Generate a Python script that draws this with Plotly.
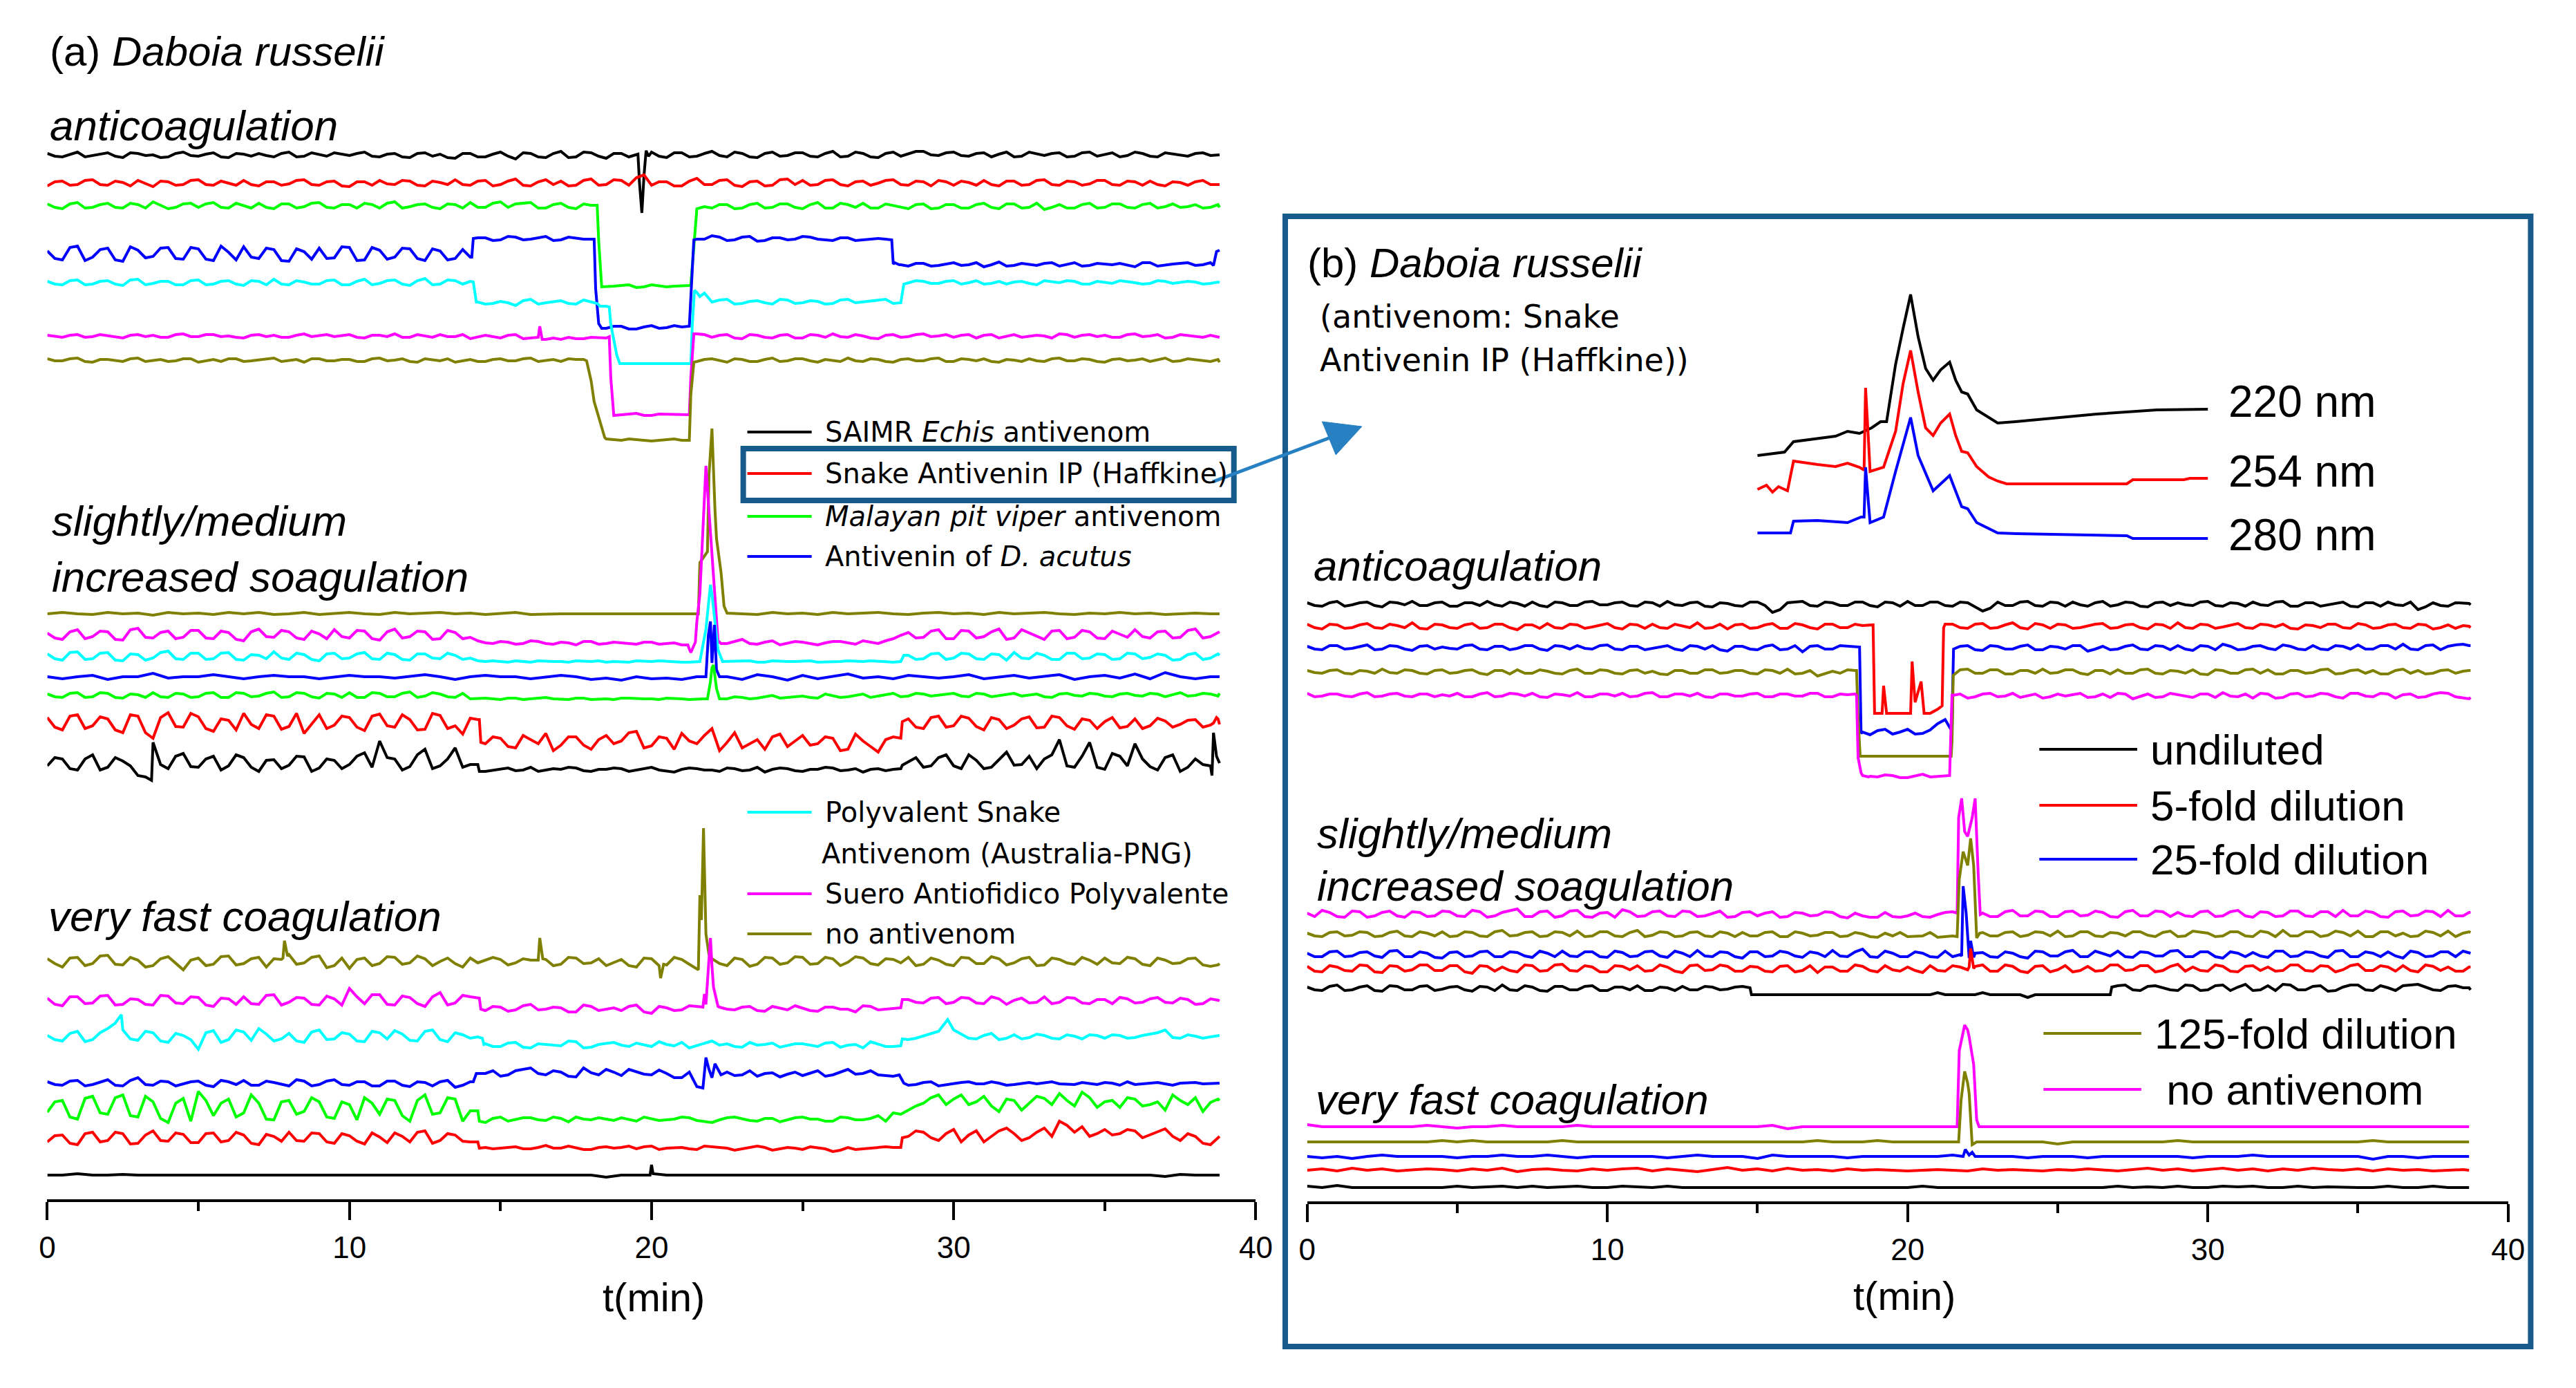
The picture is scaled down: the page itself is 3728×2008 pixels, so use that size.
import plotly.graph_objects as go

W, H = 3728, 2008

# samples every 0.5 min (0 .. 38.5) and in-between samples (0.25 .. 38.75);
# values are deviations (px) from each trace's own baseline, None = no sample there
GRID = [i * 0.5 for i in range(78)]
MID = [0.25 + i * 0.5 for i in range(78)]

# ---------------- panel (a) : anticoagulation ----------------
a_anti_black = [2, -3, 4, -1, 3, -4, 2, 0, -3, 4,
                -2, 3, -4, 1, 2, -3, 4, -2, 0, 3,
                -1, 4, -3, 2, -4, 3, 1, -5, 2, -3,
                4, -6, 2, -4, 5, -3, 3, -5, 2, 0,
                4, -4, 3, -2, 5, -3, 2, -4, 4, -1,
                3, -3, 5, -2, 2, -4, 4, 2, 5, -1,
                4, -2, 3, 1, -3, 4, -1, 3, -2, 4,
                1, -3, 4, -2, 3, 0, 2, -1]
a_anti_black_m = [-2, 1, -3, 2, -2, 3, -1, -4, 2, -1,
                  1, -3, 2, -2, -1, 2, -3, 3, -2, 1,
                  2, -2, 1, -3, 2, -2, -4, 2, -3, 1,
                  -2, 3, -3, 2, -4, 4, -2, 2, -3, None,
                  -2, 3, -3, 2, -1, 4, -3, 2, -2, 3,
                  -2, 2, -3, 4, -3, 2, -2, 5, 0, 3,
                  -1, 2, -3, 4, -2, 1, 2, -3, 3, -2,
                  3, -1, 2, -3, 1, -2, 3, 0]
a_anti_black_x = [(19.55, 1), (19.6, -40), (19.68, -84), (19.75, -30), (19.82, 6), (19.9, -2), (38.8, 0)]

a_anti_red = [-4, 3, -2, 5, -3, 1, 4, -5, 2, -2,
              5, -3, 0, 4, -4, 2, -1, 5, -3, 3,
              -5, 2, 4, -2, 3, -4, 1, 5, -3, 4,
              -2, 6, -4, 5, 3, -3, 6, -2, 4, 8,
              -3, 2, -4, 7, -2, 5, -5, 3, -3, 6,
              4, -2, 5, -4, 3, 0, 5, -3, 2, 4,
              -3, 1, 4, -4, 3, -2, 5, -3, 2, -1,
              4, -3, 2, 3, -4, 1, 2, -2]
a_anti_red_m = [2, -3, 4, -2, 3, -4, -1, 3, -3, 4,
                -2, 3, -3, -2, 2, -3, 4, -2, 2, -4,
                2, -3, -1, 4, -3, 3, -2, -2, 3, -4,
                3, -3, 2, -2, -4, 4, -3, 5, -3, 12,
                2, -4, 3, -2, 4, -3, 2, -4, 5, -2,
                -3, 4, -2, 2, -3, 4, -2, 3, -4, 2,
                3, -3, -2, 3, -3, 4, -2, 3, -3, 4,
                -2, 3, -3, -2, 2, -3, 4, -2]
a_anti_red_x = [(38.8, -2)]

a_anti_green = [3, -4, 5, -2, 4, -3, 2, 6, -4, 3,
                -2, 5, -3, 1, 4, -4, 3, -1, 5, -3,
                2, 4, -3, 6, -1, 3, -4, 2, 5, -2,
                6, 3, 5, -3, 4, -4, 1, -117, -115, -118,
                -114, -117, -116, -4, -3, 2, -3, 4, -2, 3,
                -4, 5, -3, 2, 4, -3, 1, -4, 3, -3,
                2, -3, 4, -4, 3, -2, -5, 2, -3, 4,
                -2, 3, -3, 4, -1, -2, 2, -2]
a_anti_green_m = [-2, 3, -3, 2, -2, 4, -3, 1, -2, 4,
                  3, -2, 4, -3, -2, 3, -3, 4, -2, 2,
                  -3, 2, 4, -3, 2, -2, 3, -3, -2, 4,
                  -2, 4, -3, 2, -2, 3, None, -116, -114, -117,
                  -115, -116, -115, -1, 2, -4, 2, -3, 3, -2,
                  2, -3, 4, -2, -3, 3, -2, 2, -4, 2,
                  -3, 2, -2, 3, -3, 4, -2, -3, 2, -3,
                  3, -2, 2, -3, 3, -1, -3, 2]
a_anti_green_x = [(18.2, 1), (18.25, -50), (18.35, -117), (21.3, -114), (21.35, -84),
                  (21.42, -48), (21.48, -4), (38.8, -2)]

a_anti_blue = [5, -8, 12, -4, 9, -10, 6, -3, 10, -7,
               8, -9, 3, 11, -6, 7, -10, 4, 9, -5,
               10, -8, 6, -4, 8, -9, 5, -6, -4, 24,
               21, 25, 22, 26, 21, 23, 22, -107, -104, -108,
               -103, -106, -105, 22, 27, 20, 25, 19, 24, 21,
               26, 22, 20, 24, 21, 23, -14, -17, -13, -16,
               -12, -15, -18, -11, -16, -14, -13, -17, -12, -16,
               -14, -13, -18, -12, -15, -13, -16, -12]
a_anti_blue_m = [-6, 10, -9, 7, -8, 11, -5, 9, -6, 10,
                 -7, 12, -8, -4, 9, -9, 8, -7, -6, 11,
                 -9, 10, -7, 9, -6, 8, -8, 7, 24, 20,
                 26, 21, 24, 20, 25, 22, None, -104, -108, -105,
                 -107, -103, -104, 22, 25, 21, 26, 20, 24, 22,
                 25, 21, 24, 20, 23, 22, -15, -13, -17, -14,
                 -16, -12, -15, -17, -13, -16, -12, -15, -17, -13,
                 -15, -16, -12, -17, -14, -12, -15, 5]
a_anti_blue_x = [(14.05, -4), (14.1, 23), (18.1, 22), (18.15, -50), (18.25, -100), (18.35, -107),
                 (21.25, -104), (21.3, -60), (21.4, 21), (27.95, 21), (28.05, -12), (28.2, -15),
                 (38.6, -16), (38.7, 4), (38.8, 6)]

a_anti_cyan = [2, -3, 4, -2, 3, -4, 5, -1, 2, -3,
               4, -2, 3, -4, 2, 5, -3, 1, -2, 4,
               -3, 5, -1, 4, -4, 6, -2, 3, 2, -31,
               -27, -33, -24, -29, -26, -31, -28, -34, -117, -117,
               -117, -117, -117, -14, -28, -24, -30, -26, -31, -25,
               -29, -27, -30, -24, -28, -26, -30, 0, 2, -1,
               3, 0, -2, 2, 1, -1, 3, 0, 2, -2,
               1, 3, 0, -1, 2, 0, 1, -1]
a_anti_cyan_m = [-2, 3, -3, 2, -2, 4, -3, 2, -3, 3,
                 -3, 2, -2, 3, -3, -2, 3, -2, 3, -3,
                 2, -3, 3, -2, 3, -3, 4, -2, -28, -30,
                 -29, -26, -31, -27, -30, -25, -32, -85, -117, -116,
                 -117, -117, -117, -15, -25, -31, -27, -29, -24, -30,
                 -26, -31, -25, -29, -27, -24, -29, 3, -1, 2,
                 -2, 3, -1, -2, 2, -3, 1, 3, -2, 2,
                 -1, 2, -2, 3, -1, 2, -2, 1]
a_anti_cyan_x = [(14.1, 1), (14.2, -28), (18.2, -30), (18.3, -34), (18.6, -35), (18.65, -60),
                 (18.75, -85), (18.85, -105), (18.95, -117), (21.3, -117), (21.35, -60),
                 (21.42, -11), (21.6, -20), (21.75, -15), (28.25, -29), (28.35, -2), (38.8, 0)]

a_anti_magenta = [1, -2, 2, -1, 0, -3, 2, 1, -2, 3,
                  -1, 2, 0, -3, 2, 1, -2, 3, 0, -1,
                  2, -3, 1, 3, -2, 0, 2, -1, -4, 1,
                  -3, 2, -3, -5, -5, -4, -2, -3, -114, -112,
                  -115, -113, -114, 3, -2, 2, -4, 1, -3, 2,
                  -3, 1, 3, -2, 0, -4, 2, -1, 3, 0,
                  -2, 2, 1, -3, 2, -1, 0, 3, -2, 2,
                  1, -2, 3, 0, -3, 2, -1, 1]
a_anti_magenta_m = [-1, 1, -2, 2, -2, 1, -1, -2, 2, -1,
                    2, -1, -2, 1, -1, -2, 1, -1, 2, 1,
                    -2, 1, -1, -2, 2, -2, -1, 2, -2, -1,
                    1, -4, -2, -3, -2, -4, -3, -115, -112, -115,
                    -113, -114, -114, 2, 1, -3, 2, -2, 1, -3,
                    2, -2, -1, 2, -3, 1, -2, 2, -1, 2,
                    1, -3, 2, -1, -2, 1, -3, 2, 1, -1,
                    -2, 2, -1, 2, -2, 1, -2, -1]
a_anti_magenta_x = [(16.25, -2), (16.3, 14), (16.38, -5), (18.6, -1), (18.65, -60), (18.75, -115),
                    (21.25, -114), (21.3, -60), (21.4, 3), (38.8, -2)]

a_anti_olive = [2, -1, 3, -3, 1, -2, 3, 0, -2, 2,
                -3, 1, 2, -2, 0, 3, -1, -3, 2, -1,
                1, -2, 3, 0, -2, 2, -1, -3, 1, -2,
                2, -1, 3, 0, -2, 1, -30, -114, -116, -115,
                -117, -115, -116, -2, 2, -3, 1, -2, 3, -1,
                2, -3, 0, 3, -2, 1, -3, 2, -1, 3,
                -2, 1, 2, -3, 0, 2, -2, 3, -1, 1,
                -3, 2, 0, -2, 3, -1, 1, -2]
a_anti_olive_m = [-1, 2, -2, 1, -1, 2, -2, 1, -1, 2,
                  -1, -2, 2, -1, 2, -2, 1, 2, -1, 1,
                  -2, 2, -1, 2, -3, 1, 2, -1, -2, 1,
                  -1, 2, -2, 1, 2, 1, -82, -115, -114, -116,
                  -116, -114, -116, 1, -1, 2, -2, 1, -2, 2,
                  -1, 1, -2, -1, 2, -2, 1, -1, 2, -2,
                  2, -1, -2, 1, -2, -1, 2, -1, 2, -2,
                  1, -1, 2, 1, -2, 2, -1, 1]
a_anti_olive_x = [(17.85, -1), (18.1, -60), (18.3, -90), (18.45, -112), (21.25, -116),
                  (21.3, -50), (21.4, -3), (38.8, -3)]

# ---------------- panel (a) : slightly / medium ----------------
a_slow_olive = [0, 2, 0, -1, 2, 0, 1, -2, 2, 0,
                1, -1, 2, 0, 2, -1, 0, 2, -1, 1,
                2, 0, -1, 2, 0, 1, 2, 0, 1, -1,
                0, 2, -1, 0, 0, 0, 0, 0, 0, 0,
                0, 0, 0, 0, 268, 1, 0, -1, 2, 0,
                1, -1, 2, 0, 1, 2, 0, -1, 1, 2,
                0, 1, -1, 2, 0, 1, 2, 0, -1, 1,
                0, 2, 0, 1, -1, 0, 1, 0]
a_slow_olive_x = [(21.55, 0), (21.6, 74), (21.85, 90), (21.9, 200), (22.1, 150), (22.15, 109),
                  (22.3, 60), (22.4, 11), (38.8, 0)]

a_slow_magenta = [3, -6, 8, -2, 5, -7, 10, -4, 6, -3,
                  7, -5, 4, -8, 9, -3, 5, -6, 2, 8,
                  -4, 6, -7, 9, -2, 5, -5, 4, -3, -11,
                  -9, -13, -8, -12, -10, -14, -9, -12, -11, -13,
                  -10, -12, -14, 20, 120, -12, -6, -13, -8, -12,
                  -10, -14, -9, -11, -8, -12, -5, 4, -3, 8,
                  -5, 6, -2, 9, -4, 3, -6, 7, -3, 5,
                  -5, 2, 8, -4, 6, -3, 9, -2]
a_slow_magenta_m = [-4, 5, -5, 6, -6, 8, -3, 4, -5, 7,
                    -4, 6, -6, 5, -2, 7, -4, 6, -5, -2,
                    7, -5, 5, -4, 6, -6, 7, -5, -8, -12,
                    -10, -12, -9, -13, -11, -9, -13, -10, -12, -10,
                    -13, -11, -20, None, -10, -9, -12, -10, -14, -9,
                    -12, -11, -9, -13, -10, -8, 0, -4, 6, -5,
                    7, -4, 5, -6, 8, -2, 6, -5, 7, -4,
                    6, -3, -2, 5, -4, 7, -4, 3]
a_slow_magenta_x = [(21.2, -14), (21.3, -25), (21.45, -10), (21.6, 60), (21.8, 245), (21.9, 180),
                    (22.05, 90), (22.2, -8), (22.3, -12), (38.8, 5)]

a_slow_cyan = [4, -5, 7, -3, 6, -6, 3, -2, 8, -4,
               5, -3, 6, -5, 2, 7, -4, 3, -6, 5,
               -2, 6, -4, 3, -5, 4, -3, 2, -2, -7,
               -7, -6, -8, -7, -7, -6, -7, -8, -7, -6,
               -7, -7, -8, -7, 90, -7, -7, -8, -6, -7,
               -7, -8, -7, -6, -7, -7, -8, 2, -3, 5,
               -2, 4, -4, 3, 6, -3, 2, -4, 5, -2,
               3, -3, 4, -1, 2, -4, 5, -2]
a_slow_cyan_m = [-3, 6, -4, 5, -5, 4, -5, 6, -3, 5,
                 -4, 5, -4, 3, -3, -2, 5, -4, 4, -3,
                 4, -3, 5, -4, 4, -2, 5, -4, -6, -6,
                 -8, -7, -6, -7, -8, -7, -6, -7, -8, -7,
                 -6, -7, -8, None, None, -7, -6, -8, -7, -7,
                 -6, -8, -7, -7, -6, -8, -7, -4, 4, -4,
                 5, -3, 4, -5, -2, 5, -4, 5, -3, 4,
                 -4, 5, -3, 4, -5, 3, -4, 4]
a_slow_cyan_x = [(21.6, -7), (21.8, 40), (21.95, 104), (22.05, 70), (22.2, 10), (22.35, -7),
                 (28.25, -7), (28.35, 2), (38.8, 2)]

a_slow_blue = [0, -3, 0, 2, -4, 0, 0, 5, -2, 0,
               0, 3, 0, -3, 0, 2, 0, 0, -3, 0,
               2, 0, 0, -2, 0, 3, 0, -4, 0, 2,
               0, 0, -3, 0, 2, 0, -4, -2, -5, 0,
               -3, -2, -4, 0, 20, 0, -4, 3, 0, -5,
               2, -3, 0, 4, -2, 0, -3, 2, 0, -2,
               0, 3, -3, 0, 2, -2, 0, 3, -4, 0,
               2, -2, 4, -3, 6, 0, -3, 0]
a_slow_blue_x = [(21.8, 0), (21.88, 60), (21.95, 80), (22.08, 75), (22.15, 10), (22.25, 0), (38.8, 0)]

a_slow_green = [2, -3, 4, -2, 3, -4, 1, 4, -3, 2,
                -2, 4, -3, 3, -1, 5, -2, 3, -4, 2,
                4, -3, 3, -2, 5, -1, 2, -3, -5, -4,
                -6, -4, -5, -3, -5, -4, -6, -5, -4, -5,
                -5, -4, -5, -5, 40, -5, -3, -4, 0, -3,
                -1, -4, 0, -2, 2, -1, 3, -1, 2, 0,
                3, -2, 2, 0, 3, 1, -2, 2, 0, 3,
                -1, 2, 0, 3, -2, 4, 0, 2]
a_slow_green_m = [-2, 3, -3, 4, -3, 2, -3, -2, 3, -3,
                  3, -3, 4, -2, 3, -3, 4, -2, 3, -3,
                  -3, 4, -2, 3, -3, 4, -2, 3, -4, -5,
                  -4, -6, -4, -5, -6, -4, -5, -6, -4, -5,
                  -6, -4, -6, -5, -5, -2, -5, -2, -4, -1,
                  -3, 2, -3, 0, -3, 2, -2, 3, -1, 2,
                  -1, 3, -2, 2, -1, 2, -3, 3, -1, 2,
                  -2, 3, -1, 2, 1, -1, 3, -1]
a_slow_green_x = [(21.85, -5), (21.95, 20), (22.05, 44), (22.15, 10), (22.25, -5), (38.8, 3)]

a_slow_red = [8, -10, 12, -4, 6, -14, 10, -22, 15, -6,
              9, -12, 4, 14, -8, 10, -5, -15, 12, -3,
              8, -11, 13, -6, 5, -9, 11, -4, 7, -30,
              -22, -36, -24, -15, -32, -20, -38, -18, -26, -12,
              -33, -22, -15, -30, -8, -28, -36, -24, -20, -34,
              -18, -30, -22, -38, -26, -42, -20, 6, -8, 10,
              -4, 7, -10, 5, -3, 9, -6, 8, -9, 4,
              2, -7, 6, -4, 3, -2, 5, -3]
a_slow_red_m = [-6, 10, -8, 9, -10, 12, -14, 8, -5, 14,
                -8, 6, -10, -2, 12, -9, 14, -2, -8, 10,
                -6, 10, -4, 12, -10, 14, -8, -16, 5, -20,
                -34, -18, -30, -40, -20, -32, -24, -30, -14, -36,
                -20, -38, -26, -18, -40, -14, -30, -38, -16, -26,
                -32, -20, -40, -16, -34, -24, -22, -6, 8, -6,
                10, -5, 8, -8, 6, -7, 10, -4, 6, -8,
                8, -5, -8, 7, -6, 4, -6, 6]
a_slow_red_x = [(14.3, 5), (14.35, -28), (28.25, -22), (28.3, 2), (38.6, 0), (38.7, 8), (38.8, -2)]

a_slow_black = [-4, 6, -10, 12, -6, 3, -18, 30, -8, 14,
                -6, 10, -4, 8, -12, 5, -3, 9, -7, 4,
                -2, 15, 32, 6, -5, 20, -4, 22, -2, -12,
                -8, -11, -6, -10, -9, -7, -12, -9, -8, -10,
                -6, -11, -9, -8, -10, -7, -11, -6, -9, -8,
                -12, -9, -7, -10, -13, -8, -9, 2, -6, 8,
                -4, 12, -8, 5, -3, 10, 6, 34, -6, 30,
                -9, 10, 28, -5, 8, -12, 6, -4]
a_slow_black_m = [8, -8, 6, -10, 8, -4, -20, -2, 10, -5,
                  6, -10, 12, -6, 4, -8, 10, -12, 6, -8,
                  10, -6, 8, -10, 12, -8, 6, -6, -2, -10,
                  -7, -10, -12, -8, -6, -11, -9, -7, -12, -8,
                  -10, -13, -7, -10, -12, -8, -10, -13, -7, -11,
                  -9, -6, -11, -8, -9, -11, -8, 8, -4, 12,
                  -8, 4, -6, 16, -2, -8, 12, -4, 10, -6,
                  14, -4, 6, -10, 12, -6, -2, 5]
a_slow_black_x = [(3.45, -25), (14.25, -2), (14.3, -12), (28.25, -8), (28.3, -3),
                  (38.55, -18), (38.6, 44), (38.7, 10), (38.8, 0)]

# ---------------- panel (a) : very fast coagulation ----------------
a_fast_olive = [4, -8, 6, -3, 9, -5, 2, -6, 7, -12,
                5, -4, 8, -3, 6, 4, 10, -2, 8, -6,
                -10, 5, -3, 6, -2, 4, 0, -3, 5, 2,
                3, -2, 2, 3, -4, 5, -2, -6, 3, -8,
                4, -5, 3, -10, 4, -6, 3, -4, 5, -2,
                6, -3, 4, -1, 5, -5, 3, 6, -4, 2,
                -6, 5, -3, 4, -2, 6, -5, 3, -4, 2,
                5, -3, 4, -6, 2, -2, 5, -7]
a_fast_olive_m = [-3, 5, -6, 8, -4, 6, -8, 4, -3, 2,
                  -6, 7, -5, 4, -8, 3, -4, 6, -9, 5,
                  3, -6, 7, -4, 8, -6, 5, -8, -2, 6,
                  -5, 4, 2, -6, 6, -3, 4, -2, -6, 5,
                  -6, 6, -4, None, -3, 5, -7, 6, -4, 7,
                  -4, 6, -6, 7, -3, 4, -2, -6, 5, -4,
                  6, -3, 7, -5, 4, -6, 5, -2, 6, -4,
                  -2, 6, -4, 5, -3, 4, -5, -5]
a_fast_olive_x = [(7.8, 5), (7.85, 30), (7.95, 8), (16.25, 2), (16.3, 34), (16.4, 4),
                  (20.25, -6), (20.3, -24), (20.4, -4), (21.55, -12), (21.6, 96), (21.65, 60),
                  (21.72, 193), (21.8, 40), (21.9, 10), (38.8, -3)]

a_fast_magenta = [4, -7, 6, -3, 8, -5, 2, -6, 7, -4,
                  5, -8, 3, 6, -5, 9, -2, 4, -6, 3,
                  18, -4, 9, -6, 5, -8, 12, -3, 6, -14,
                  -9, -13, -5, -12, -10, -16, -8, -12, -14, -6,
                  -18, -10, -13, -8, 50, -12, -9, -14, -8, -13,
                  -10, -15, -9, -12, -7, -13, -10, 2, -3, 5,
                  -2, 4, -4, 3, 1, -3, 6, -2, 4, -4,
                  2, 5, -3, 3, -2, 4, -5, 3]
a_fast_magenta_m = [-5, 6, -4, 7, -6, 3, -5, 8, -3, 6,
                    -6, 4, -5, -4, 8, -6, 5, -5, 7, -6,
                    6, 9, -5, 7, -4, 6, -6, 8, 4, -8,
                    -15, -7, -13, -9, -16, -6, -14, -10, -8, -16,
                    -8, -14, -7, 10, -9, -13, -8, -15, -11, -7,
                    -14, -9, -12, -16, -8, -12, -10, -2, 4, -4,
                    5, -3, 6, -5, 4, -2, -4, 5, -3, 2,
                    -4, 3, -2, 5, -3, 2, -4, 1]
a_fast_magenta_x = [(14.3, 4), (14.35, -12), (21.7, -9), (21.75, 10), (21.8, -5), (21.9, 60),
                    (21.95, 91), (22.05, 20), (22.2, -8), (28.25, -10), (28.3, 2), (38.8, 0)]

a_fast_cyan = [2, -6, 8, -4, 12, 10, -5, 6, -8, 2,
               -18, 9, -4, 7, 12, -6, 5, -8, 10, -3,
               4, -7, 6, 9, -5, 8, -4, 6, -2, -10,
               -14, -8, -16, -11, -13, -7, -15, -10, -12, -9,
               -14, -11, -8, -13, -6, -10, -15, -12, -9, -13,
               -10, -14, -8, -12, -16, -11, -14, -4, 1, 8,
               10, -2, 2, -4, 3, -1, 2, -3, 1, 3,
               -2, 2, -1, 4, 10, -2, 1, 0]
a_fast_cyan_m = [-4, 5, -7, 6, 20, -3, 8, -6, 5, -4,
                 6, -8, 10, -5, 4, -3, -6, 7, -4, 6,
                 -6, 8, -3, 4, -6, 10, -7, 3, 0, -14,
                 -9, -15, -10, -13, -6, -16, -11, -8, -14, -11,
                 -7, -13, -16, -9, -12, -14, -8, -11, -15, -10,
                 -12, -9, -15, -11, -7, -14, -13, -2, 4, 22,
                 4, -3, 5, -2, -3, 4, -2, 3, -3, 2,
                 3, -2, 2, 6, -1, 3, -2, 1]
a_fast_cyan_x = [(2.45, 32), (14.4, -2), (14.45, -11), (28.25, -13), (28.3, -3), (29.8, 25), (38.8, 2)]

a_fast_blue = [2, -3, 4, -2, 5, -4, 8, -3, 2, -1,
               3, -5, 2, 4, -3, 1, -4, 3, -2, 5,
               -3, 2, -4, 3, -5, 1, 2, -6, 2, 14,
               10, 18, 22, 12, 16, 9, 15, 20, 11, 17,
               12, 14, 8, -5, 8, 16, 12, 10, 15, 13,
               11, 18, 12, 20, 14, 12, 10, -3, 1, -4,
               0, 2, -1, 0, -2, 1, 0, -1, -2, 0,
               1, -3, -2, 0, -1, 0, 1, -1]
a_fast_blue_m = [-2, 3, -4, 2, -3, 4, -2, 3, -4, 2,
                 -3, 4, -2, -3, 3, -2, 5, -4, 3, -2,
                 2, -4, 3, -3, 2, -4, 4, -3, 14, 18,
                 12, 20, 14, 18, 10, 22, 12, 16, 20, 13,
                 19, 8, 16, None, 16, 11, 18, 14, 9, 16,
                 14, 10, 16, 13, 18, 11, 8, -2, 2, -2,
                 1, -1, 2, -3, 0, -1, 2, -1, 1, -2,
                 0, 2, -1, 1, -3, 0, -1, 0]
a_fast_blue_x = [(14.1, 2), (14.2, 14), (21.7, -7), (21.8, 37), (21.9, 20), (22.1, 28), (22.3, 12),
                 (28.2, 12), (28.35, 0), (38.8, 0)]

a_fast_green = [-5, 12, -15, 18, -8, 20, -12, 10, -20, 15,
                25, -10, 14, -6, 8, -16, 12, -4, 10, -14,
                6, 16, -8, 12, -18, 20, -6, 14, -3, -20,
                -12, -16, -13, -17, -14, -12, -16, -15, -13, -18,
                -14, -16, -12, -17, -20, -13, -15, -18, -14, -16,
                -12, -15, -18, -13, -16, -10, -6, -2, 8, 20,
                14, 6, 18, -4, 12, 8, 15, 22, 4, 16,
                10, 2, 14, 6, -2, 12, 16, 9]
a_fast_green_m = [10, -12, 15, -6, 16, -10, 18, -14, 8, -18,
                  12, 8, -12, 20, -15, 10, -8, 16, -12, 10,
                  -16, 8, 14, -10, 12, -8, 16, -18, -3, -14,
                  -18, -13, -16, -12, -19, -15, -13, -17, -16, -12,
                  -17, -15, -13, -19, -16, -12, -17, -14, -19, -13,
                  -15, -18, -12, -16, -14, -18, -8, 4, 16, 6,
                  20, 10, 4, 14, -2, 18, 6, 12, 24, 2,
                  12, 16, 4, 10, 20, 6, -4, 14]
a_fast_green_x = [(14.25, -3), (14.3, -18), (38.8, 12)]

a_fast_red = [-4, 6, -8, 10, -2, 8, -6, 12, -3, 7,
              -5, 9, -2, 6, -8, 4, 10, -3, 8, -6,
              5, -7, 3, 9, -4, 12, -2, 6, -4, -12,
              -13, -11, -14, -9, -13, -12, -15, -11, -12, -14,
              -10, -13, -12, -15, -11, -13, -14, -10, -16, -12,
              -15, -13, -18, -12, -14, -13, -12, 4, 10, -2,
              14, 6, -4, 12, 8, 2, 16, 26, 10, 4,
              14, 8, 12, 6, 15, -2, 4, -8]
a_fast_red_m = [5, -6, 8, -4, 10, -7, 6, -2, 9, -5,
                8, -4, 10, -6, 7, -3, -2, 9, -4, 8,
                -3, 9, -5, 4, 10, -6, 8, -3, -4, -14,
                -11, -14, -12, -13, -10, -15, -12, -13, -10, -11,
                -15, -12, -14, -10, -13, -16, -11, -12, -14, -13,
                -11, -14, -16, -15, -13, -11, -12, 12, 2, 8,
                -4, 12, 4, 16, -2, 10, 4, 20, 18, 8,
                6, 14, 2, 10, 4, 8, -6, 2]
a_fast_red_x = [(14.25, -4), (14.3, -13), (28.25, -12), (28.3, 2), (38.8, 4)]

a_fast_black = [0, 0, 2, 0, 0, 1, 0, 0, 1, 0,
                0, 1, 0, 0, 1, 0, 0, 1, 0, 0,
                1, 0, 0, 1, 0, 1, 0, 1, 0, 0,
                0, 0, 0, 0, 0, 0, 0, -3, 0, 0,
                15, 0, 0, 0, 0, 0, 0, 0, 0, 0,
                0, 1, 0, 0, 0, 0, 0, 0, 1, 0,
                1, 0, 0, 1, 0, 1, 0, 1, 0, 1,
                0, 1, 0, 0, -2, 1, 0, 0]
a_fast_black_x = [(19.95, 0), (20.05, 2), (38.8, 0)]

# ---------------- panel (b) : UV traces (15-30 min) ----------------
uv220_t = [15.0, 15.9, 16.2, 17.0, 17.6, 18.0, 18.4, 18.8, 19.1, 19.3, 19.6, 19.85, 20.1, 20.35,
           20.6, 20.85, 21.1, 21.4, 21.6, 21.8, 22.0, 22.3, 22.7, 23.0, 23.6, 24.9, 26.3, 28.3, 30.0]
uv220_v = [0, 5, 20, 24, 28, 35, 32, 40, 49, 49, 132, 184, 233, 172,
           126, 109, 124, 135, 109, 92, 89, 66, 55, 47, 49, 54, 60, 66, 67]
uv254_t = [15.0, 15.3, 15.5, 15.7, 16.0, 16.2, 17.0, 17.6, 18.0, 18.4, 18.55, 18.6, 18.7, 18.75,
           19.2, 19.6, 19.85, 20.1, 20.35, 20.6, 20.85, 21.1, 21.4, 21.6, 21.8, 22.0, 22.3, 22.7,
           23.0, 23.3, 27.3, 27.5, 29.2, 29.4, 30.0]
uv254_v = [0, 6, -4, 4, -2, 41, 36, 33, 38, 32, 28, 147, 68, 26,
           32, 84, 153, 201, 141, 89, 78, 96, 109, 78, 55, 53, 33, 18,
           12, 8, 8, 14, 14, 16, 16]
uv280_t = [15.0, 16.1, 16.2, 17.0, 18.0, 18.45, 18.55, 18.6, 18.7, 18.75, 19.2, 19.6, 20.1, 20.35,
           20.85, 21.1, 21.4, 21.8, 22.0, 22.3, 23.0, 23.6, 27.3, 27.5, 30.0]
uv280_v = [0, 0, 17, 18, 15, 23, 23, 95, 41, 15, 23, 89, 167, 112,
           61, 71, 83, 38, 35, 15, 0, -1, -4, -8, -8]

# ---------------- panel (b) : anticoagulation ----------------
b_anti_black = [2, -3, 4, -1, 3, -4, 2, 4, -2, 3,
                -3, 2, 4, -3, 1, 3, -4, 2, -2, 4,
                -1, 3, -3, 2, 4, -2, 3, -4, 1, -3,
                3, -12, 2, 4, -3, 2, -2, 3, -4, 2,
                4, -2, 3, -3, 2, -10, 3, -2, 4, -3,
                2, 3, -3, 4, -1, 2, -4, 3, 2, -2,
                4, -3, 1, 3, -2, 4, -3, 2, -1, 3,
                -4, 2, 3, -2, -8, 2, -3, 2]
b_anti_black_m = [-2, 2, -3, 2, -2, 3, -1, -2, 2, -3,
                  2, -2, -1, 3, -3, -2, 3, -2, 3, -1,
                  2, -2, 3, -3, -1, 2, -3, 2, -2, 3,
                  -2, -8, 3, -2, 3, -2, 3, -2, 3, -3,
                  -2, 3, -2, 3, -4, -6, -2, 3, -2, 3,
                  -3, -1, 2, -3, 3, -3, 2, -2, -1, 3,
                  -2, 2, -3, -1, 3, -3, 2, -3, 2, -3,
                  2, -3, -1, 3, -4, -2, 2, -1]
b_anti_black_x = [(38.7, 1)]

b_anti_red = [3, -4, 2, -2, 4, -3, 1, 5, -4, 2,
              -3, 4, -2, 3, -5, 2, 4, -3, 2, -1,
              4, -4, 2, 3, -3, 1, 5, -2, -4, 3,
              -2, 4, -3, 2, -4, 3, -2, 1, -126, -126,
              -126, -100, -120, 3, -3, 4, -2, 5, -4, 2,
              3, -3, 1, 4, -2, 3, -4, 2, 5, -3,
              2, -1, 4, -3, 2, 3, -4, 1, 3, -2,
              4, -3, 2, -2, 3, -4, 2, 1]
b_anti_red_m = [-2, 3, -3, 2, -2, 3, -2, -3, 3, -2,
                2, -3, 3, -2, 2, -3, -2, 3, -3, 2,
                -2, 3, -3, -2, 3, -2, -3, 3, 2, -3,
                2, -3, 4, -2, 3, -2, 3, 2, None, -126,
                -110, -126, 3, -2, 3, -3, 2, -2, 4, -3,
                2, -2, 3, -3, 2, -2, 3, -3, -2, 3,
                -3, 2, -2, 3, -1, -3, 2, -2, 3, -3,
                2, -2, 3, -3, 2, -2, -3, -2]
b_anti_red_x = [(18.85, 2), (18.9, -126), (19.15, -126), (19.2, -86), (19.3, -126), (20.1, -126),
                (20.15, -51), (20.25, -110), (20.45, -80), (20.55, -126), (21.15, -115),
                (21.2, -2), (38.7, 0)]

b_anti_blue = [2, -3, 3, -1, 4, -2, 2, -4, 3, 1,
               -2, 4, -3, 2, -1, 3, -4, 2, 3, -2,
               4, -3, 2, -1, 3, -4, 2, 3, -5, 2,
               -3, 4, -2, -6, 3, -2, 2, -122, -120, -125,
               -118, -124, -110, -60, 3, -4, 2, -2, 4, -3,
               1, 3, -5, 2, -2, 4, -3, 2, 3, -4,
               2, 5, -3, 2, -1, 4, -2, 3, -3, 2,
               4, -2, 3, 5, -3, 4, 2, 5]
b_anti_blue_m = [-2, 3, -2, 2, -3, 3, -2, 2, -2, -1,
                 3, -2, 2, -3, 3, -2, 3, -2, -1, 3,
                 -2, 2, -3, 2, -2, 3, -2, -3, 2, -2,
                 2, -3, 3, 2, -2, 3, 1, -126, -118, -122,
                 -125, -119, -104, 2, -3, 3, -2, 2, -3, 2,
                 -2, 3, -2, -3, 2, -2, 3, -3, -2, 3,
                 -3, 2, -2, 3, -3, 2, -3, -2, 3, -2,
                 -2, 3, -2, -2, 3, -3, 4, 3]
b_anti_blue_x = [(18.4, 1), (18.45, -124), (21.48, -121), (21.53, -2), (38.7, 3)]

b_anti_olive = [2, -2, 3, -3, 1, 4, -2, 2, -3, 3,
                -1, 3, -4, 2, 3, -2, 1, -3, 4, -2,
                2, -3, 3, 1, -4, 2, -2, 3, -1, 2,
                -3, 2, 4, -2, -6, 1, 3, -122, -122, -122,
                -121, -122, -122, -50, 4, -2, 3, -3, 2, 4,
                -1, 3, -4, 2, 3, -2, 4, -3, 1, 3,
                -4, 2, -2, 4, 3, -3, 2, -1, 4, -2,
                3, 2, -3, 4, 2, -2, 3, 1]
b_anti_olive_m = [-1, 2, -2, 2, -2, -1, 3, -2, 2, -2,
                  2, -2, 2, -3, -2, 3, -2, 2, -2, 3,
                  -2, 2, -2, -3, 2, -2, 3, -2, 2, -2,
                  3, -2, -3, 2, -3, -2, 2, -122, -122, -121,
                  -122, -122, -122, 3, -2, 3, -3, 2, -2, -2,
                  3, -2, 2, -3, -2, 3, -2, 2, -2, -3,
                  3, -2, 3, -2, -3, 2, -2, 3, -3, 2,
                  -2, -3, 2, -2, -3, 2, -2, 2]
b_anti_olive_x = [(18.3, 2), (18.35, -66), (18.42, -122), (21.45, -122), (21.48, -100),
                  (21.52, -5), (38.7, 2)]

b_anti_magenta = [3, -1, 2, -2, 4, -1, 3, -2, 2, 1,
                  3, -2, 4, -1, 2, 3, -3, 1, 4, -2,
                  2, 3, -1, 4, -2, 2, 3, -3, 2, -1,
                  3, -2, 2, -1, 3, -2, 1, -116, -118, -116,
                  -119, -114, -117, 0, -4, 2, -2, 3, -1, -4,
                  2, 1, -3, 2, 3, -5, 2, -2, 1, -3,
                  2, 4, -2, -4, 2, -3, 3, -1, 2, -4,
                  3, -2, 2, 1, -3, 2, 3, -4]
b_anti_magenta_m = [-2, 2, -1, 2, -2, 2, -1, 2, -2, -1,
                    -2, 2, -2, 3, -1, -2, 2, -1, -2, 2,
                    -1, -2, 3, -2, 2, -1, -2, 2, -1, 2,
                    -2, 2, -1, 3, -2, 2, 2, -117, -115, -119,
                    -116, -118, -116, 2, -2, 3, -1, -3, 2, -2,
                    -1, 3, -2, -3, 2, -1, -3, 3, -2, 2,
                    -3, -1, 2, 3, -4, 2, -2, 3, -2, 3,
                    -1, 3, -4, 2, -2, 4, -2, -3]
b_anti_magenta_x = [(18.3, 0), (18.35, -90), (18.45, -112), (18.7, -118), (21.4, -116),
                    (21.45, -40), (21.48, 2), (38.7, -5)]

# ---------------- panel (b) : slightly / medium ----------------
b_slow_magenta = [2, 6, -3, 5, -4, 3, -2, 4, -3, 5,
                  -2, 6, -4, 3, 8, -3, 5, -2, 6, -4,
                  3, 7, -3, 4, -2, 5, -3, 2, -4, 3,
                  -2, 4, -3, 2, -1, 3, -5, -2, -4, -3,
                  -2, -3, 0, 4, 113, 2, -3, 6, -2, 4,
                  -3, 5, -1, 3, -4, 6, -2, 4, 3, -3,
                  5, -2, 6, -4, 3, -2, 5, -3, 4, 6,
                  -2, 3, -4, 5, -1, 4, 6, -2]
b_slow_magenta_m = [-3, 3, -4, 4, -2, 5, -4, 3, -2, 4,
                    -3, 4, -2, 5, -3, 4, -4, 5, -3, 2,
                    -4, 4, -2, 5, -3, 4, -2, 5, -3, 4,
                    2, -4, 3, -2, 4, -3, 2, -4, 3, -4,
                    2, -4, 3, None, None, -3, 4, -2, 5, -3,
                    4, -2, 5, -3, 4, -2, 5, -3, -2, 4,
                    -3, 4, -2, 4, -3, 5, -2, 4, -3, -2,
                    5, -3, 4, -2, 5, -3, -2, 3]
b_slow_magenta_x = [(21.65, 2), (21.7, 140), (21.8, 168), (21.9, 120), (22.15, 140), (22.25, 168),
                    (22.35, 60), (22.42, 0), (38.7, 3)]

b_slow_olive = [2, -3, 4, -1, 3, -2, 5, -3, 2, 4,
                -2, 3, -3, 6, -1, 4, -2, 3, 5, -2,
                4, -3, 6, -1, 3, -2, 4, -3, 2, 3,
                -2, 4, -3, 2, -1, 3, -2, 1, -4, -2,
                -3, -2, -4, -2, 100, 3, -2, 4, -1, 3,
                5, -2, 4, -3, 2, 4, -1, 3, -3, 5,
                2, -2, 4, -3, 3, 6, -2, 4, -1, 3,
                5, -3, 4, 2, -2, 3, 5, 2]
b_slow_olive_m = [-2, 3, -2, 4, -3, 3, -2, 4, -2, -3,
                  4, -2, 4, -2, 3, -3, 4, -2, -3, 4,
                  -2, 3, -3, 4, -3, 3, -2, 4, -3, -2,
                  3, -3, 4, -2, 3, -3, 3, -3, 2, 3,
                  -2, 3, -3, None, None, -2, 3, -3, 4, -2,
                  -3, 4, -2, 3, -2, 4, -3, 5, -2, 3,
                  -3, 4, -2, 5, -3, -2, 4, -3, 5, -2,
                  -3, 4, -2, -3, 5, -2, -3, 3]
b_slow_olive_x = [(21.65, -3), (21.72, 80), (21.85, 120), (22.1, 139), (22.2, 100), (22.3, -5),
                  (22.4, 2), (38.7, 4)]

b_slow_blue = [2, -3, 5, -2, 4, -4, 6, -3, 2, -5,
               4, -2, 5, -3, 3, -4, 2, 5, -3, 4,
               -4, 3, -2, 5, -4, 2, 6, -3, 3, -5,
               4, -2, 3, -4, 2, 6, -3, 8, -4, 2,
               -3, 2, -4, -3, 20, 3, -4, 2, -5, 4,
               -2, 6, -3, 2, 5, -4, 3, -2, 6, -3,
               4, -5, 2, 3, -4, 5, -2, 3, -4, 6,
               -3, 2, 4, -5, 3, -2, 4, 5]
b_slow_blue_m = [-3, 4, -3, 3, -2, 5, -3, 4, -4, 3,
                 -3, 4, -3, 4, -2, 5, -3, -2, 4, -3,
                 5, -3, 4, -2, 5, -3, -2, 4, -3, 4,
                 -3, 5, -2, 4, -3, -2, 4, -3, 5, -3,
                 4, -3, 5, 0, 2, -3, 4, -3, 5, -2,
                 4, -3, 5, -2, -3, 4, -2, 5, -3, 4,
                 -3, 4, -3, -2, 5, -3, 4, -2, 5, -3,
                 4, -3, -2, 5, -3, 4, -3, 2]
b_slow_blue_x = [(21.8, -2), (21.85, 99), (21.95, 60), (22.05, -5), (22.1, 20), (22.2, -4), (38.7, 3)]

b_slow_red = [3, -5, 2, -4, 4, -6, 3, -2, 5, -3,
              4, -7, 3, 2, -5, 4, -3, 6, -4, 2,
              -5, 3, 4, -3, 2, -6, 5, -2, 3, -4,
              2, -5, 4, -3, -6, 2, -4, 3, -5, -2,
              2, -6, -3, 4, -2, 5, -4, 3, -6, 4,
              -2, -5, 3, -3, 5, -2, 4, -3, 6, 2,
              -4, 3, -5, 4, 2, -3, 5, -4, 3, -2,
              6, -3, 2, 4, -5, 3, 2, -4]
b_slow_red_m = [-4, 4, -3, 5, -5, 4, -4, 5, -3, 4,
                -5, 4, -4, -3, 5, -4, 5, -3, 4, -5,
                4, -2, -4, 5, -4, 4, -3, 5, -4, 3,
                -4, 3, -5, 4, 2, -4, 5, -3, 4, -4,
                -3, 4, -4, 2, 3, -4, 5, -4, 3, -5,
                4, -3, -4, 5, -3, 4, -5, 3, -4, -3,
                5, -4, 3, -3, -4, 5, -3, 4, -5, 4,
                -3, 4, -4, -3, 5, -3, -4, 2]
b_slow_red_x = [(22.05, 2), (22.1, 29), (22.2, 0), (38.7, 2)]

b_slow_black = [2, -3, 5, -2, 4, -4, 3, -2, 4, -1,
                3, -4, 2, 5, -3, 2, -4, 3, -2, 4,
                -3, 2, 4, -3, 1, 3, -2, 2, -1, 3,
                -9, -9, -9, -9, -9, -9, -9, -9, -9, -9,
                -9, -9, -6, -9, -9, -6, -9, -9, -13, -9,
                -9, -9, -9, -9, 4, -2, 3, 1, -3, 4,
                -2, 5, 2, -3, 4, 6, -2, 3, -4, 2,
                5, -3, 1, 4, 6, -2, 3, 1]
b_slow_black_m = [-2, 3, -3, 2, -3, 4, -2, 3, -3, 2,
                  -2, 3, -3, -2, 4, -3, 3, -2, 3, -3,
                  2, -2, -3, 2, -3, -2, 3, -2, 2, 1,
                  -9, -9, -9, -9, -9, -9, -9, -9, -9, -9,
                  -9, -9, -9, -9, -9, -9, -9, -9, -9, -9,
                  -9, -9, -9, -9, 5, -3, 4, -2, 5, -3,
                  4, -3, 6, -2, -3, 5, -2, 4, -3, 5,
                  -2, 4, -3, 5, 2, -3, 4, -2]
b_slow_black_x = [(14.75, 1), (14.8, -9), (26.75, -9), (26.8, 2), (38.7, 1)]

# ---------------- panel (b) : very fast coagulation ----------------
b_fast_magenta = [3, 0, 0, 0, 0, 0, 0, 0, 2, 0,
                  -2, 0, 0, 2, 0, 0, 0, 0, 2, 0,
                  0, 0, 0, 0, 0, 0, 0, 0, 0, 0,
                  0, 2, -3, 0, 0, 0, 0, 0, 0, 0,
                  0, 0, 0, 0, 140, 0, 0, 0, 0, 0,
                  0, 0, 0, 0, 0, 0, 0, 0, 0, 0,
                  0, 0, 0, 0, 0, 0, 0, 0, 0, 0,
                  0, 0, 0, 0, 0, 0, 0, 0]
b_fast_magenta_x = [(21.65, 0), (21.72, 110), (21.9, 147), (22.05, 130), (22.2, 90), (22.3, 10),
                    (22.38, 0), (38.7, 0)]

b_fast_olive = [0, 0, 0, 0, 0, 0, 0, 0, 0, 2,
                0, 2, 0, 0, 0, 0, 0, 2, 0, 0,
                0, 0, 0, 0, 0, 0, 0, 0, 0, 0,
                0, 0, 0, 0, 2, 0, 0, 0, 2, 0,
                0, 0, 0, 0, 85, 0, 0, 0, 0, 0,
                -3, 0, 0, 0, 0, 0, 0, 0, 2, 0,
                0, 0, 0, 0, 0, 0, 0, 0, 0, 0,
                0, 2, 0, 0, 0, 0, 0, 0]
b_fast_olive_x = [(21.7, 0), (21.78, 60), (21.9, 102), (22.05, 70), (22.15, -4), (22.3, 0), (38.7, 0)]

b_fast_blue = [0, -2, 0, -3, 0, 2, 0, 0, 0, 0,
               -2, 0, 0, 2, 0, 0, 2, 0, -2, 0,
               0, 0, 0, 0, -2, 0, 2, 0, 0, 0,
               -3, 2, 0, 0, 0, 0, -2, 0, 0, 0,
               0, 0, 0, 2, 4, 0, 0, 0, -2, 0,
               0, 0, -2, 0, 0, 0, 0, 0, 0, -2,
               0, 0, 0, 2, 0, 0, 0, 0, 0, 0,
               0, -4, 0, 0, -2, 0, 0, 0]
b_fast_blue_x = [(21.85, 0), (21.92, 10), (22.05, 2), (22.15, 6), (22.25, 0), (38.7, 0)]

b_fast_red = [0, 2, -1, 3, 0, 2, -1, 0, 2, 1,
              -1, 2, 0, 3, -2, 1, 2, 0, -1, 2,
              0, 2, 3, -1, 2, 0, -2, 1, 4, 0,
              2, -1, 3, 0, 1, -1, 2, 0, 1, 0,
              -1, 0, 1, 0, -1, 2, 0, 1, 0, -1,
              1, 0, 2, 0, -1, 1, 3, 0, 2, -1,
              1, 3, 0, 2, -1, 2, 0, 3, 1, 0,
              2, -1, 2, 0, 1, -1, 0, 1]
b_fast_red_x = [(38.7, 0)]

b_fast_black = [2, 0, 3, 0, 0, 0, 0, 0, 0, 0,
                2, 0, 1, 2, 0, 2, 0, 1, 2, 0,
                0, 2, 1, 0, 2, 0, 0, 0, 0, 0,
                0, 0, 0, 0, 0, 0, 0, 0, 0, 0,
                0, 2, 0, 0, 0, 0, 0, 0, 0, 0,
                0, 0, 0, 0, 2, 0, 1, 0, 2, 0,
                0, 2, 1, 2, 0, 0, 2, 0, 1, 0,
                0, 0, 2, 0, 0, 2, 0, 0]
b_fast_black_x = [(38.7, 0)]

# legend / label texts
legend_a = ["SAIMR <i>Echis</i> antivenom", "Snake Antivenin IP (Haffkine)",
            "<i>Malayan pit viper</i> antivenom", "Antivenin of <i>D. acutus</i>",
            "Polyvalent Snake", "Suero Antiofidico Polyvalente", "no antivenom"]
legend_b = ["undiluted", "5-fold dilution", "25-fold dilution", "125-fold dilution", " no antivenom"]
uv_labels = ["220 nm", "254 nm", "280 nm"]

BLACK, RED, GREEN, BLUE = "#000000", "#ff0000", "#00ff00", "#0000ff"
CYAN, MAGENTA, OLIVE = "#00ffff", "#ff00ff", "#808000"
BOX, ARROW = "#165b8b", "#2780c2"
SANS, WIDE = "Liberation Sans, Arial, sans-serif", "DejaVu Sans, sans-serif"


def px(x):
    return x / W


def py(y):
    return 1 - y / H


def merged(vals, mids, extra):
    assert len(vals) == 78 and (mids is None or len(mids) == 78)
    pts = list(zip(GRID, vals))
    if mids is not None:
        pts += [(t, v) for t, v in zip(MID, mids) if v is not None]
    pts = sorted(pts + extra, key=lambda p: p[0])
    return [p[0] for p in pts], [p[1] for p in pts]


# (values, in-between values, extra points, baseline pixel row, colour, x axis)
traces = [
    (a_anti_black, a_anti_black_m, a_anti_black_x, 224, BLACK, "x"),
    (a_anti_red, a_anti_red_m, a_anti_red_x, 265, RED, "x"),
    (a_anti_green, a_anti_green_m, a_anti_green_x, 298, GREEN, "x"),
    (a_anti_blue, a_anti_blue_m, a_anti_blue_x, 368, BLUE, "x"),
    (a_anti_cyan, a_anti_cyan_m, a_anti_cyan_x, 409, CYAN, "x"),
    (a_anti_magenta, a_anti_magenta_m, a_anti_magenta_x, 486, MAGENTA, "x"),
    (a_anti_olive, a_anti_olive_m, a_anti_olive_x, 521, OLIVE, "x"),
    (a_slow_olive, None, a_slow_olive_x, 888, OLIVE, "x"),
    (a_slow_magenta, a_slow_magenta_m, a_slow_magenta_x, 919, MAGENTA, "x"),
    (a_slow_cyan, a_slow_cyan_m, a_slow_cyan_x, 950, CYAN, "x"),
    (a_slow_blue, None, a_slow_blue_x, 979, BLUE, "x"),
    (a_slow_green, a_slow_green_m, a_slow_green_x, 1006, GREEN, "x"),
    (a_slow_red, a_slow_red_m, a_slow_red_x, 1046, RED, "x"),
    (a_slow_black, a_slow_black_m, a_slow_black_x, 1104, BLACK, "x"),
    (a_fast_olive, a_fast_olive_m, a_fast_olive_x, 1391, OLIVE, "x"),
    (a_fast_magenta, a_fast_magenta_m, a_fast_magenta_x, 1448, MAGENTA, "x"),
    (a_fast_cyan, a_fast_cyan_m, a_fast_cyan_x, 1500, CYAN, "x"),
    (a_fast_blue, a_fast_blue_m, a_fast_blue_x, 1567, BLUE, "x"),
    (a_fast_green, a_fast_green_m, a_fast_green_x, 1604, GREEN, "x"),
    (a_fast_red, a_fast_red_m, a_fast_red_x, 1648, RED, "x"),
    (a_fast_black, None, a_fast_black_x, 1700, BLACK, "x"),
    (b_anti_black, b_anti_black_m, b_anti_black_x, 874, BLACK, "x2"),
    (b_anti_red, b_anti_red_m, b_anti_red_x, 906, RED, "x2"),
    (b_anti_blue, b_anti_blue_m, b_anti_blue_x, 937, BLUE, "x2"),
    (b_anti_olive, b_anti_olive_m, b_anti_olive_x, 972, OLIVE, "x2"),
    (b_anti_magenta, b_anti_magenta_m, b_anti_magenta_x, 1006, MAGENTA, "x2"),
    (b_slow_magenta, b_slow_magenta_m, b_slow_magenta_x, 1323, MAGENTA, "x2"),
    (b_slow_olive, b_slow_olive_m, b_slow_olive_x, 1352, OLIVE, "x2"),
    (b_slow_blue, b_slow_blue_m, b_slow_blue_x, 1381, BLUE, "x2"),
    (b_slow_red, b_slow_red_m, b_slow_red_x, 1401, RED, "x2"),
    (b_slow_black, b_slow_black_m, b_slow_black_x, 1430, BLACK, "x2"),
    (b_fast_magenta, None, b_fast_magenta_x, 1630, MAGENTA, "x2"),
    (b_fast_olive, None, b_fast_olive_x, 1652, OLIVE, "x2"),
    (b_fast_blue, None, b_fast_blue_x, 1673, BLUE, "x2"),
    (b_fast_red, None, b_fast_red_x, 1693, RED, "x2"),
    (b_fast_black, None, b_fast_black_x, 1718, BLACK, "x2"),
]

fig = go.Figure()

for vals, mids, extra, base, color, xa in traces:
    t, v = merged(vals, mids, extra)
    fig.add_trace(go.Scatter(x=t, y=[-base + d for d in v], mode="lines", xaxis=xa, yaxis="y",
                             line=dict(color=color, width=4), hoverinfo="skip", showlegend=False))

for t, v, base, color in [(uv220_t, uv220_v, 659, BLACK), (uv254_t, uv254_v, 708, RED),
                          (uv280_t, uv280_v, 771, BLUE)]:
    fig.add_trace(go.Scatter(x=t, y=[-base + d for d in v], mode="lines", xaxis="x2", yaxis="y",
                             line=dict(color=color, width=4), hoverinfo="skip", showlegend=False))

axis = dict(range=[0, 40], anchor="free", showline=True, linecolor="black", linewidth=4,
            ticks="outside", ticklen=26, tickwidth=4, tickcolor="black", dtick=10, tick0=0,
            tickfont=dict(family=SANS, size=44, color="black"), ticklabelstandoff=2,
            showgrid=False, zeroline=False,
            minor=dict(ticks="outside", ticklen=13, tickwidth=4, tickcolor="black", dtick=5, showgrid=False))

fig.update_layout(
    width=W, height=H, margin=dict(l=0, r=0, t=0, b=0),
    paper_bgcolor="white", plot_bgcolor="white",
    xaxis=dict(axis, domain=[px(57), px(1823)], position=py(1737)),
    xaxis2=dict(axis, domain=[px(1898), px(3653)], position=py(1740)),
    yaxis=dict(domain=[0, 1], range=[-H, 0], visible=False),
)


def label(x, y, text, size, family=SANS, anchor="left"):
    fig.add_annotation(x=px(x), y=py(y), xref="paper", yref="paper", text=text, showarrow=False,
                       xanchor=anchor, yanchor="middle", font=dict(family=family, size=size, color="black"))


# panel (a) texts
label(59, 75, "(a) <i>Daboia russelii</i>", 60)
label(59, 181, "<i>anticoagulation</i>", 62)
label(62, 753, "<i>slightly/medium</i>", 62)
label(62, 835, "<i>increased soagulation</i>", 62)
label(57, 1325, "<i>very fast coagulation</i>", 62)
label(943, 1876, "t(min)", 58, anchor="center")

legend_a_rows = [625, 685, 747, 805, 1175, 1293, 1351]
legend_a_cols = [BLACK, RED, GREEN, BLUE, CYAN, MAGENTA, OLIVE]
for text, y, c in zip(legend_a, legend_a_rows, legend_a_cols):
    fig.add_shape(type="line", xref="paper", yref="paper", x0=px(1080), x1=px(1174), y0=py(y), y1=py(y),
                  line=dict(color=c, width=4))
    label(1192, y, text, 40, WIDE)
label(1186, 1235, "Antivenom (Australia-PNG)", 40, WIDE)

# panel (b) texts
label(1896, 380, "(b) <i>Daboia russelii</i>", 60)
label(1914, 458, "(antivenom: Snake", 46, WIDE)
label(1914, 521, "Antivenin IP (Haffkine))", 46, WIDE)
for text, y in zip(uv_labels, [581, 682, 774]):
    label(3242, y, text, 64)
label(1905, 818, "<i>anticoagulation</i>", 62)
label(1910, 1205, "<i>slightly/medium</i>", 62)
label(1910, 1281, "<i>increased soagulation</i>", 62)
label(1908, 1590, "<i>very fast coagulation</i>", 62)
label(2771, 1874, "t(min)", 58, anchor="center")

legend_b_rows = [1084, 1165, 1243, 1495, 1576]
legend_b_cols = [BLACK, RED, BLUE, OLIVE, MAGENTA]
for i, (text, y, c) in enumerate(zip(legend_b, legend_b_rows, legend_b_cols)):
    x0 = 2968 if i < 3 else 2974
    fig.add_shape(type="line", xref="paper", yref="paper", x0=px(x0), x1=px(x0 + 143), y0=py(y), y1=py(y),
                  line=dict(color=c, width=4))
    label(3128 if i < 3 else 3134, y, text, 62)

# boxes and arrow
fig.add_shape(type="rect", xref="paper", yref="paper", x0=px(1074), x1=px(1791), y0=py(649), y1=py(724),
              line=dict(color=BOX, width=8))
fig.add_shape(type="rect", xref="paper", yref="paper", x0=px(1866), x1=px(3686), y0=py(313), y1=py(1948),
              line=dict(color=BOX, width=8))
fig.add_shape(type="path", xref="paper", yref="paper",
              path=f"M {px(1760)} {py(697)} L {px(1940)} {py(630)}", line=dict(color=ARROW, width=5))
fig.add_shape(type="path", xref="paper", yref="paper",
              path=f"M {px(1920)} {py(610)} L {px(1978)} {py(617)} L {px(1940)} {py(658)} Z",
              fillcolor=ARROW, line=dict(color=ARROW, width=1))

fig.write_html("out.html", config={"displayModeBar": False},
               post_script="document.body.style.margin='0';document.body.style.overflow='hidden';")
